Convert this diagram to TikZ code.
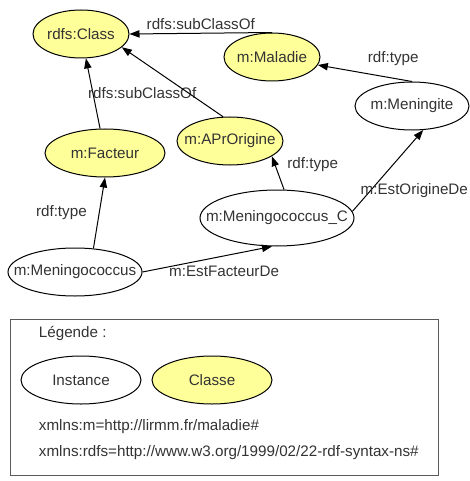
\documentclass[tikz,border=0pt]{standalone}
\usepackage{fontspec}
\setmainfont{Liberation Sans}
\usetikzlibrary{shapes.geometric,arrows.meta}
\definecolor{classfill}{HTML}{FFFF99}
\definecolor{txtgray}{HTML}{333333}
\definecolor{boxgray}{HTML}{5A5A5A}
\begin{document}
\begin{tikzpicture}[x=0.75pt,y=-0.75pt,
  font=\fontsize{11.4}{13.5}\selectfont, text=txtgray,
  res/.style={ellipse,draw=black,line width=0.75pt,inner sep=0pt,minimum height=36pt,
    execute at begin node={\hbox to 0pt\bgroup\hss}, execute at end node={\hss\egroup}},
  classe/.style={res,fill=classfill},
  instance/.style={res,fill=white},
  rel/.style={draw=black,line width=0.75pt,-{Triangle[length=7.5pt,width=5.5pt]}},
  lbl/.style={inner sep=2pt}]
\useasboundingbox (0,0) rectangle (470,481);
% classes
\node[classe,minimum width=72pt] (Class) at (81,34) {rdfs:Class};
\node[classe,minimum width=72pt] (Maladie) at (272,57) {m:Maladie};
\node[classe,minimum width=90pt] (Facteur) at (105,153) {m:Facteur};
\node[classe,minimum width=79.5pt] (APrOrigine) at (230,141) {m:APrOrigine};
% instances
\node[instance,minimum width=85.5pt] (Meningite) at (412,106) {m:Meningite};
\node[instance,minimum width=115.5pt,minimum height=42pt] (MeningoC) at (277,218) {m:Meningococcus\_C};
\node[instance,minimum width=100.5pt] (Meningo) at (75,272) {m:Meningococcus};
% relations
\draw[rel] (Maladie.north) -- (Class.east) node[lbl,midway,above] {rdfs:subClassOf};
\draw[rel] (Facteur) -- (Class) node[lbl,midway,right,xshift=-6pt] {rdfs:subClassOf};
\draw[rel] (APrOrigine.106) -- (Class.-18);
\draw[rel] (Meningite.north) -- (Maladie) node[lbl,pos=0.2,above=7pt] {rdf:type};
\draw[rel] (MeningoC.76) -- (APrOrigine.-20) node[lbl,pos=0.75,right=7pt] {rdf:type};
\draw[rel] (MeningoC.5) -- (Meningite.-65) node[lbl,pos=0.26,right,xshift=-10pt] {m:EstOrigineDe};
\draw[rel] (Meningo.52) -- (Facteur.south) node[lbl,midway,left=7pt] {rdf:type};
\draw[rel] (Meningo.east) -- (MeningoC.-100) node[lbl,pos=0.63,below=5.5pt] {m:EstFacteurDe};
% legende
\draw[boxgray,line width=0.75pt] (10,319) rectangle (438,475);
\node[lbl,anchor=west] (titre) at (36,333) {Légende :};
\node[instance,minimum width=90pt] (legInstance) at (81,380) {Instance};
\node[classe,minimum width=90pt] (legClasse) at (212,380) {Classe};
\node[lbl,anchor=west] (nsM) at (36,427) {xmlns:m=http://lirmm.fr/maladie\#};
\node[lbl,anchor=west] (nsRdfs) at (36,453) {xmlns:rdfs=http://www.w3.org/1999/02/22-rdf-syntax-ns\#};
\end{tikzpicture}
\end{document}
